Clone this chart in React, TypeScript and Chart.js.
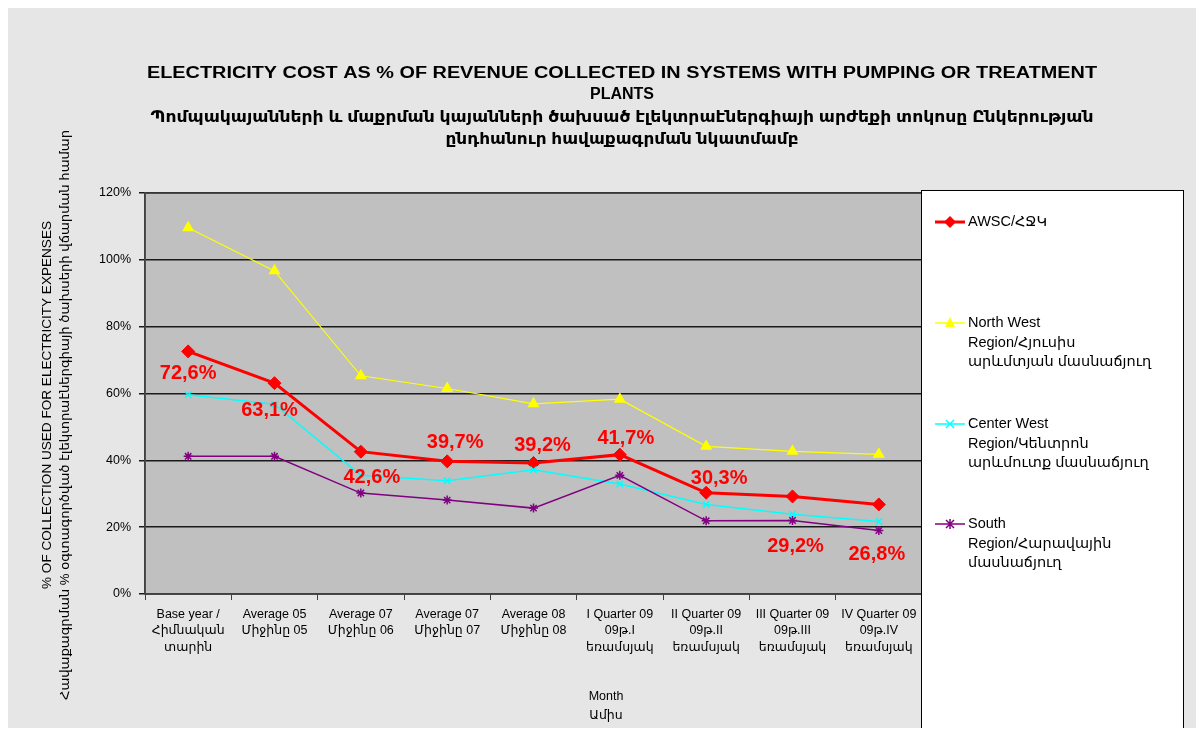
import React, { useEffect, useRef } from "react";
import { Chart, registerables } from "chart.js";

Chart.register(...registerables);

const categories: string[][] = [
  ["Base year /", "Հիմնական", "տարին"],
  ["Average 05", "Միջինը 05"],
  ["Average 07", "Միջինը 06"],
  ["Average 07", "Միջինը 07"],
  ["Average 08", "Միջինը 08"],
  ["I Quarter 09", "09թ.I", "եռամսյակ"],
  ["II Quarter 09", "09թ.II", "եռամսյակ"],
  ["III Quarter 09", "09թ.III", "եռամսյակ"],
  ["IV Quarter 09", "09թ.IV", "եռամսյակ"],
];

const awscValues = [72.6, 63.1, 42.6, 39.7, 39.2, 41.7, 30.3, 29.2, 26.8];
const northWestValues = [109.6, 96.7, 65.3, 61.5, 56.9, 58.3, 44.2, 42.7, 41.8];
const centerWestValues = [59.6, 56.8, 35.5, 33.9, 37.2, 32.9, 26.8, 23.9, 21.7];
const southValues = [41.2, 41.2, 30.2, 28.1, 25.7, 35.5, 21.9, 22.0, 19.0];

const seriesNames: string[][] = [
  ["AWSC/ՀՋԿ"],
  ["North West", "Region/Հյուսիս", "արևմտյան մասնաճյուղ"],
  ["Center West", "Region/Կենտրոն", "արևմուտք մասնաճյուղ"],
  ["South", "Region/Հարավային", "մասնաճյուղ"],
];

const yTicks = [0, 20, 40, 60, 80, 100, 120];

const titleLines = [
  "ELECTRICITY COST AS % OF REVENUE COLLECTED IN SYSTEMS WITH PUMPING OR TREATMENT",
  "PLANTS",
  "Պոմպակայանների և մաքրման կայանների ծախսած էլեկտրաէներգիայի արժեքի տոկոսը Ընկերության",
  "ընդհանուր հավաքագրման նկատմամբ",
];
const yTitleLines = [
  "% OF COLLECTION USED FOR ELECTRICITY EXPENSES",
  "Հավաքագրման % օգտագործված էլեկտրաէներգիայի ծախսերի վճարման համար",
];
const xTitleLines = ["Month", "Ամիս"];

// label offsets (px) relative to each AWSC point
const labelOffsets: [number, number][] = [
  [0, 22], [-5, 27], [11, 26], [8, -19], [9, -18], [6, -16], [13, -14], [3, 50], [-2, 50],
];

const FONT = "'Liberation Sans', Arial, 'DejaVu Sans', sans-serif";

const colors = ["#ff0000", "#ffff00", "#00ffff", "#800080"];
const pointStyles = ["rectRot", "triangle", "crossRot", "star"];

function drawFit(ctx: CanvasRenderingContext2D, text: string, x: number, y: number, width: number | null) {
  const w = ctx.measureText(text).width;
  ctx.save();
  ctx.translate(x, y);
  if (width) ctx.scale(width / w, 1);
  ctx.textAlign = "center";
  ctx.textBaseline = "middle";
  ctx.fillText(text, 0, 0);
  ctx.restore();
}

const decorPlugin = {
  id: "decor",
  beforeDraw(chart: any) {
    const { ctx, chartArea: a, width, height } = chart;
    ctx.save();
    ctx.fillStyle = "#e6e6e6";
    ctx.fillRect(0, 0, width, height);
    ctx.fillStyle = "#c0c0c0";
    ctx.fillRect(a.left, a.top, a.right - a.left, a.bottom - a.top);
    ctx.restore();
  },
  afterDatasetsDraw(chart: any) {
    const { ctx, chartArea: a } = chart;
    ctx.save();
    // plot frame
    ctx.strokeStyle = "#404040";
    ctx.lineWidth = 1.5;
    ctx.strokeRect(a.left, a.top, a.right - a.left, a.bottom - a.top);

    // data labels
    const meta = chart.getDatasetMeta(0);
    ctx.fillStyle = "#ff0000";
    ctx.font = `bold 20px ${FONT}`;
    ctx.textAlign = "center";
    ctx.textBaseline = "middle";
    meta.data.forEach((pt: any, i: number) => {
      const v = awscValues[i];
      const s = v.toFixed(1).replace(".", ",") + "%";
      ctx.fillText(s, pt.x + labelOffsets[i][0], pt.y + labelOffsets[i][1]);
    });

    // title
    ctx.fillStyle = "#000";
    ctx.font = `bold 16px ${FONT}`;
    const tW = [950, null, 943, 353];
    const tY = [66, 87, 110, 132];
    titleLines.forEach((t, i) => drawFit(ctx, t, 614, tY[i], tW[i]));

    // y title
    ctx.font = `12px ${FONT}`;
    ctx.save();
    ctx.translate(40, 397);
    ctx.rotate(-Math.PI / 2);
    drawFit(ctx, yTitleLines[0], 0, 0, 368);
    ctx.restore();
    ctx.save();
    ctx.translate(58, 407);
    ctx.rotate(-Math.PI / 2);
    drawFit(ctx, yTitleLines[1], 0, 0, 570);
    ctx.restore();

    // x title
    ctx.font = `12.5px ${FONT}`;
    drawFit(ctx, xTitleLines[0], 598, 689, null);
    drawFit(ctx, xTitleLines[1], 598, 708, null);

    // legend
    const lx = 913, ly = 182, lw = 262, lh = 543;
    ctx.fillStyle = "#ffffff";
    ctx.fillRect(lx, ly, lw, lh);
    ctx.strokeStyle = "#000";
    ctx.lineWidth = 1;
    ctx.strokeRect(lx + 0.5, ly + 0.5, lw, lh);
    const itemY = [214, 315, 416, 516];
    chart.data.datasets.forEach((ds: any, i: number) => {
      const y = itemY[i];
      ctx.strokeStyle = ds.borderColor;
      ctx.lineWidth = i === 0 ? 3 : 1.5;
      ctx.beginPath();
      ctx.moveTo(927, y);
      ctx.lineTo(957, y);
      ctx.stroke();
      ctx.fillStyle = ds.pointBackgroundColor;
      ctx.strokeStyle = ds.borderColor;
      ctx.lineWidth = 1.5;
      ctx.beginPath();
      if (ds.pointStyle === "rectRot") {
        ctx.moveTo(942, y - 6); ctx.lineTo(948, y); ctx.lineTo(942, y + 6); ctx.lineTo(936, y); ctx.closePath();
        ctx.fill();
      } else if (ds.pointStyle === "triangle") {
        ctx.moveTo(942, y - 6); ctx.lineTo(947, y + 4); ctx.lineTo(937, y + 4); ctx.closePath();
        ctx.fill();
      } else if (ds.pointStyle === "crossRot") {
        ctx.moveTo(938, y - 4); ctx.lineTo(946, y + 4); ctx.moveTo(946, y - 4); ctx.lineTo(938, y + 4);
        ctx.stroke();
      } else {
        ctx.moveTo(938, y - 4); ctx.lineTo(946, y + 4); ctx.moveTo(946, y - 4); ctx.lineTo(938, y + 4);
        ctx.moveTo(942, y - 5); ctx.lineTo(942, y + 5);
        ctx.stroke();
      }
      ctx.fillStyle = "#000";
      ctx.font = `14.5px ${FONT}`;
      ctx.textAlign = "left";
      ctx.textBaseline = "middle";
      seriesNames[i].forEach((line, j) => ctx.fillText(line, 960, y + j * 19.5));
    });
    ctx.restore();
  },
};

export default function App() {
  const ref = useRef<HTMLCanvasElement>(null);
  useEffect(() => {
    if (!ref.current) return;
    const mk = (label: string, data: number[], i: number, bw: number, r: number) => ({
      label,
      data,
      borderColor: colors[i],
      backgroundColor: colors[i],
      pointBackgroundColor: colors[i],
      pointBorderColor: colors[i],
      pointStyle: pointStyles[i],
      pointRadius: r,
      pointBorderWidth: i === 0 ? 1 : 1.5,
      borderWidth: bw,
      tension: 0,
      fill: false,
      order: 4 - i,
    });
    const chart = new Chart(ref.current, {
      type: "line",
      data: {
        labels: categories,
        datasets: [
          mk(seriesNames[0].join(" "), awscValues, 0, 3, 6.5),
          mk(seriesNames[1].join(" "), northWestValues, 1, 1.2, 5.5),
          mk(seriesNames[2].join(" "), centerWestValues, 2, 1.5, 4.5),
          mk(seriesNames[3].join(" "), southValues, 3, 1.5, 4.5),
        ],
      },
      options: {
        responsive: false,
        animation: false,
        layout: { padding: { left: 0, right: 274, top: 185, bottom: 0 } },
        plugins: { legend: { display: false }, title: { display: false }, tooltip: { enabled: false } },
        scales: {
          x: {
            type: "category",
            offset: true,
            grid: { display: true, drawOnChartArea: false, drawTicks: true, tickLength: 6, color: "#404040", offset: true },
            border: { display: true, color: "#404040", width: 1.5 },
            ticks: {
              color: "#000",
              font: { family: FONT, size: 12.5, lineHeight: 1.33 },
              padding: 6,
              maxRotation: 0,
              autoSkip: false,
            },
            afterFit: (s: any) => { s.height = 134; },
          },
          y: {
            min: 0,
            max: 120,
            afterBuildTicks: (s: any) => { s.ticks = yTicks.map((v) => ({ value: v })); },
            grid: { color: "#1a1a1a", lineWidth: 1.5, tickLength: 6, drawTicks: true },
            border: { display: true, color: "#404040", width: 1.5 },
            ticks: {
              color: "#000",
              font: { family: FONT, size: 12.5 },
              padding: 8,
              callback: (v: any) => v + "%",
            },
            afterFit: (s: any) => { s.width = 137; },
          },
        },
      },
      plugins: [decorPlugin],
    } as any);
    return () => chart.destroy();
  }, []);
  return <canvas ref={ref} width={1188} height={720} style={{ display: "block" }} />;
}
